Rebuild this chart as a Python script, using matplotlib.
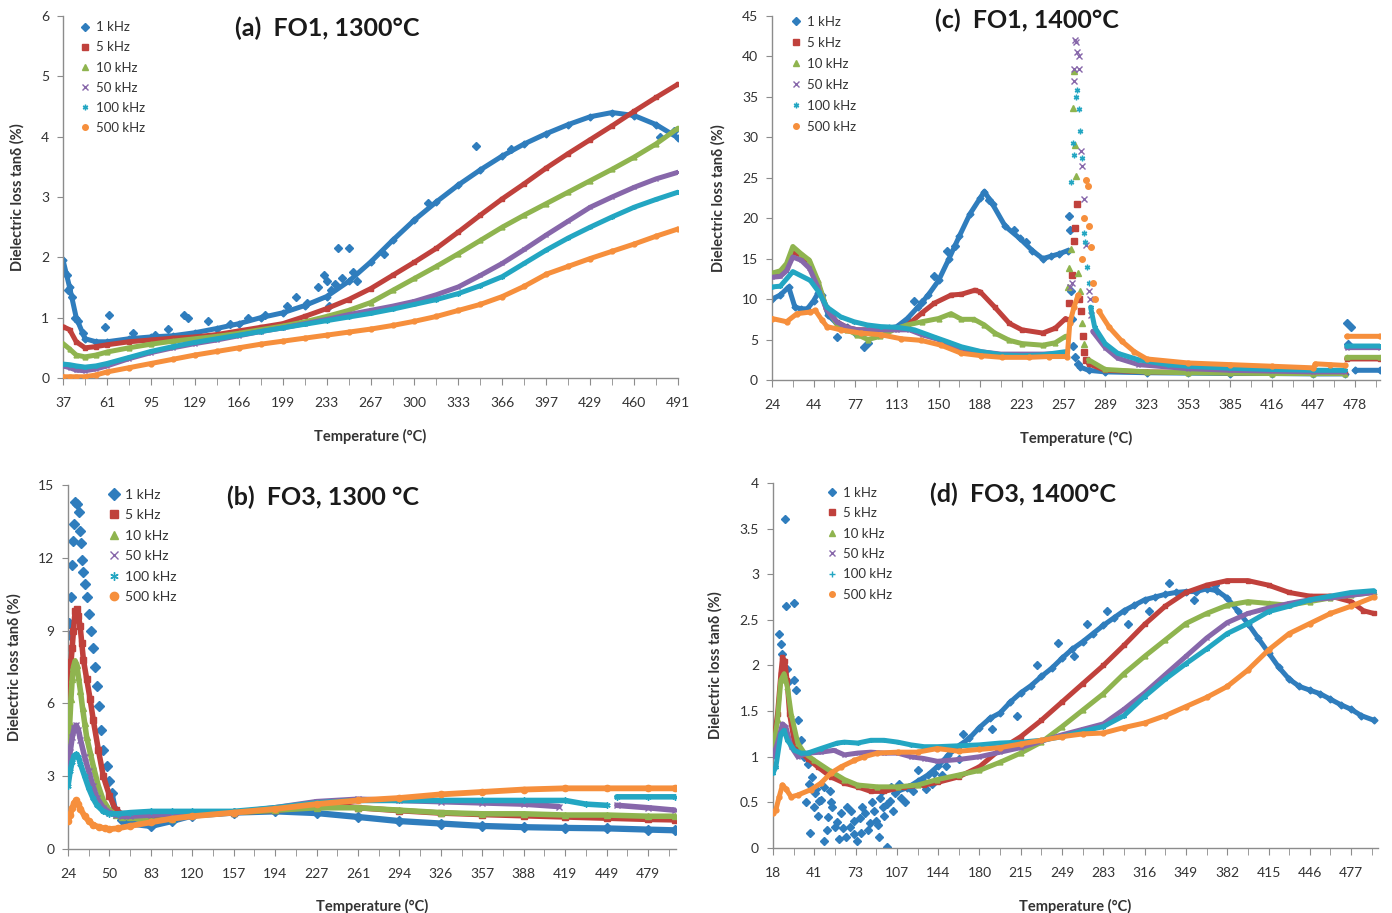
import numpy as np
import matplotlib
matplotlib.use('Agg')
import matplotlib.pyplot as plt
from matplotlib.lines import Line2D

plt.rcParams['font.family'] = ['Lato', 'DejaVu Sans']
nan = np.nan

# x positions are in "category label" units: 0 = first tick label, 1 = second ...
labels_a = ['37', '61', '95', '129', '166', '199', '233', '267', '300', '333', '366', '397', '429', '460', '491']
labels_b = ['24', '50', '83', '120', '157', '194', '227', '261', '294', '326', '357', '388', '419', '449', '479']
labels_c = ['24', '44', '77', '113', '150', '188', '223', '257', '289', '323', '353', '385', '416', '447', '478']
labels_d = ['18', '41', '73', '107', '144', '180', '215', '249', '283', '316', '349', '382', '415', '446', '477']
freqs = ['1 kHz', '5 kHz', '10 kHz', '50 kHz', '100 kHz', '500 kHz']

# ---------------- (a) FO1, 1300°C ----------------
a_x = [0, 0.15, 0.3, 0.5, 0.75, 1, 1.5, 2, 2.5, 3, 3.5, 4, 4.5, 5, 5.5, 6, 6.5, 7, 7.5, 8,
       8.5, 9, 9.5, 10, 10.5, 11, 11.5, 12, 12.5, 13, 13.5, 14]
a_1k = [1.95, 1.5, 1.0, 0.65, 0.6, 0.6, 0.65, 0.68, 0.7, 0.75, 0.82, 0.9, 1.0, 1.08, 1.2, 1.35,
        1.6, 1.92, 2.28, 2.62, 2.92, 3.2, 3.45, 3.68, 3.88, 4.05, 4.2, 4.33, 4.4, 4.35, 4.2, 3.98]
a_5k = [0.85, 0.8, 0.6, 0.5, 0.52, 0.55, 0.6, 0.63, 0.66, 0.68, 0.72, 0.78, 0.84, 0.9, 1.02, 1.15,
        1.3, 1.48, 1.7, 1.92, 2.15, 2.42, 2.7, 2.97, 3.22, 3.48, 3.72, 3.95, 4.18, 4.42, 4.65, 4.87]
a_10k = [0.57, 0.48, 0.38, 0.35, 0.38, 0.43, 0.5, 0.56, 0.61, 0.65, 0.69, 0.74, 0.8, 0.86, 0.93, 1.02,
         1.12, 1.25, 1.45, 1.65, 1.85, 2.06, 2.28, 2.5, 2.7, 2.89, 3.08, 3.27, 3.46, 3.66, 3.88, 4.14]
a_50k = [0.2, 0.17, 0.13, 0.12, 0.15, 0.2, 0.32, 0.42, 0.5, 0.57, 0.63, 0.7, 0.77, 0.83, 0.9, 0.97,
         1.05, 1.12, 1.19, 1.27, 1.38, 1.51, 1.7, 1.9, 2.13, 2.37, 2.6, 2.83, 3.0, 3.16, 3.3, 3.41]
a_100k = [0.23, 0.22, 0.2, 0.18, 0.2, 0.24, 0.34, 0.44, 0.52, 0.59, 0.65, 0.71, 0.77, 0.83, 0.89, 0.95,
          1.01, 1.07, 1.14, 1.22, 1.3, 1.4, 1.53, 1.68, 1.9, 2.12, 2.32, 2.5, 2.67, 2.83, 2.96, 3.08]
a_500k = [0.02, 0.02, 0.02, 0.02, 0.05, 0.1, 0.17, 0.24, 0.31, 0.38, 0.44, 0.5, 0.56, 0.61, 0.66, 0.71,
          0.76, 0.81, 0.87, 0.94, 1.02, 1.12, 1.22, 1.35, 1.52, 1.72, 1.85, 1.98, 2.1, 2.22, 2.35, 2.47]
a_1k_px = [0.03, 0.08, 0.12, 0.2, 0.28, 0.33, 0.45, 0.95, 1.05, 2.4, 2.75, 2.85, 3.3, 4.6, 5.3, 5.8,
           5.95, 6.1, 6.2, 6.25, 6.35, 6.5, 6.6, 6.7, 9.4, 13.6, 13.9, 3.8, 4.2, 5.1, 5.55, 6.0, 6.05,
           7.3, 8.3, 10.2, 1.6, 2.1]
a_1k_py = [1.75, 1.7, 1.45, 1.35, 1.0, 0.95, 0.75, 0.85, 1.05, 0.82, 1.05, 1.0, 0.95, 1.05, 1.35, 1.5,
           1.7, 1.45, 1.55, 2.15, 1.65, 2.15, 1.75, 1.6, 3.85, 4.0, 4.1, 0.9, 1.0, 1.2, 1.25, 1.6, 1.2,
           2.05, 2.9, 3.8, 0.75, 0.72]

# ---------------- (c) FO1, 1400°C ----------------
c_1k_x = [0, 0.2, 0.4, 0.55, 0.7, 0.85, 1.0, 1.1, 1.2, 1.35, 1.55, 1.8, 2.0, 2.2, 2.5, 2.8, 3.0, 3.25,
          3.5, 3.75, 4.0, 4.25, 4.5, 4.75, 5.0, 5.1, 5.3, 5.6, 5.95, 6.25, 6.5, 6.7, 6.9, 7.1, nan,
          7.4, 7.6, 8, 9, 10, 11, 12, 13, 13.75, nan, 14.0, 14.6]
c_1k_y = [10, 10.5, 11.5, 9.0, 8.8, 8.8, 9.8, 10.7, 10.5, 8.0, 7.0, 6.5, 5.8, 5.8, 6.3, 6.4, 6.6, 7.6,
          9.0, 10.5, 12.3, 15.0, 17.8, 20.5, 22.5, 23.3, 21.7, 19.0, 17.5, 16.0, 15.0, 15.3, 15.6, 16.0, nan,
          1.6, 1.2, 1.0, 0.9, 0.85, 0.8, 0.8, 0.75, 0.75, nan, 1.2, 1.2]
c_1k_px = [1.56, 2.22, 2.3, 7.12, 7.15, 7.18, 7.2, 7.22, 7.28, 7.35, 13.8, 13.9, 13.82, 3.4, 3.6, 3.9,
           4.2, 4.4, 5.2, 5.8, 6.1]
c_1k_py = [5.3, 4.1, 4.6, 20.3, 18.5, 11, 7.5, 4.2, 2.8, 2.0, 7.0, 6.5, 4.4, 9.8, 9.6, 12.8,
           15.9, 16.6, 22.3, 18.5, 17.0]
c_5k_x = [0, 0.2, 0.35, 0.5, 0.7, 0.9, 1.1, 1.3, 1.55, 1.8, 2.05, 2.5, 3.0, 3.26, 3.6, 3.9, 4.3, 4.55,
          4.87, 5.0, 5.35, 5.7, 6.0, 6.5, 6.8, 7.05, nan, 7.6, 8, 9, 10, 11, 12, 13, 13.75, nan, 13.8, 14.6]
c_5k_y = [13.0, 13.3, 14.0, 15.8, 15.4, 14.3, 12.0, 9.0, 7.2, 6.5, 6.2, 6.2, 6.3, 6.8, 8.3, 9.5, 10.5, 10.6,
          11.1, 10.9, 9.0, 7.0, 6.2, 5.8, 6.4, 7.6, nan, 2.0, 1.2, 1.0, 0.95, 0.9, 0.9, 0.85, 0.85, nan, 2.6, 2.6]
c_5k_px = [7.12, 7.2, 7.25, 7.28, 7.32, 7.38, 7.42, 7.46, 7.5, 7.55]
c_5k_py = [9.5, 13, 17.2, 18.8, 21.8, 10.0, 8.5, 5.5, 3.5, 2.5]
c_10k_x = [0, 0.2, 0.35, 0.5, 0.7, 0.9, 1.1, 1.3, 1.55, 1.8, 2.05, 2.3, 2.6, 3.0, 3.25, 3.6, 4.0, 4.3,
           4.55, 4.85, 5.1, 5.35, 5.7, 6.0, 6.5, 6.8, 7.05, nan, 7.6, 8, 9, 10, 11, 12, 13, 13.75, nan, 13.8, 14.6]
c_10k_y = [13.2, 13.5, 14.4, 16.5, 15.6, 14.8, 12.3, 9.0, 7.0, 6.2, 5.6, 5.0, 5.4, 6.4, 6.8, 7.2, 7.6, 8.2,
           7.5, 7.5, 6.8, 5.8, 4.9, 4.5, 4.3, 4.6, 5.4, nan, 2.5, 1.3, 1.0, 0.9, 0.85, 0.8, 0.8, 0.8, nan, 2.8, 2.8]
c_10k_px = [7.1, 7.13, 7.17, 7.22, 7.24, 7.27, 7.3, 7.35, 7.4, 7.45, 7.5]
c_10k_py = [11.5, 13.8, 16.2, 33.6, 38.2, 29, 25.2, 13.2, 11, 7, 4.5]
c_50k_x = [0, 0.2, 0.35, 0.5, 0.7, 0.9, 1.1, 1.3, 1.55, 1.8, 2.05, 2.5, 3.0, 3.3, 3.6, 4.0, 4.3, 4.6,
           5.0, 5.5, 6.0, 6.5, 7.05, nan, 7.7, 8.0, 8.3, 8.8, 10, 11, 12, 13, 13.75, nan, 13.8, 14.6]
c_50k_y = [12.7, 12.8, 13.5, 15.2, 14.8, 13.8, 11.5, 8.8, 7.2, 6.5, 6.2, 6.2, 6.2, 6.2, 5.6, 5.0, 4.3, 3.8,
           3.5, 3.2, 3.2, 3.2, 3.3, nan, 6.0, 4.0, 2.7, 1.9, 1.4, 1.2, 1.1, 1.0, 1.0, nan, 4.0, 4.0]
c_50k_px = [7.15, 7.2, 7.25, 7.26, 7.28, 7.31, 7.33, 7.36, 7.38, 7.42, 7.45, 7.5, 7.55, 7.6, 7.63, 7.66]
c_50k_py = [11.5, 12, 37, 38.5, 42, 41.8, 40.5, 40.0, 38.5, 28.3, 26.5, 22.4, 16.7, 11, 10, 8]
c_100k_x = [0, 0.2, 0.5, 0.92, 1.12, 1.32, 1.65, 1.97, 2.29, 2.61, 3.02, 3.42, 3.9, 4.23, 4.55, 5.03,
            5.52, 6.0, 6.48, 7.05, nan, 7.65, 7.75, 8.0, 8.3, 8.8, 9.5, 10, 11, 12, 13, 13.75, nan, 13.8, 14.6]
c_100k_y = [11.5, 11.6, 13.4, 12.3, 10.9, 9.0, 7.8, 7.2, 6.8, 6.6, 6.5, 6.2, 5.3, 4.7, 4.1, 3.5,
            3.1, 3.0, 3.1, 3.5, nan, 9, 6.5, 4.5, 3.3, 2.5, 1.9, 1.7, 1.45, 1.3, 1.2, 1.2, nan, 4.2, 4.2]
c_100k_px = [7.18, 7.22, 7.25, 7.3, 7.33, 7.37, 7.4, 7.45, 7.48, 7.52, 7.56, 7.6]
c_100k_py = [24.5, 29.3, 27.8, 35, 35.8, 33.5, 30.8, 27.5, 18.2, 17, 14, 12]
c_500k_x = [0, 0.35, 0.6, 0.92, 1.04, 1.2, 1.32, 1.65, 2.13, 2.61, 3.1, 3.58, 4.06, 4.55, 5.03, 5.52,
            6.16, 6.65, 7.09, 7.15, 7.25, 7.35, nan, 7.85, 8.1, 8.4, 8.7, 9.0, 10, 11, 12, 13, 13.05,
            13.4, 13.75, nan, 13.8, 14.6]
c_500k_y = [7.6, 7.2, 8.2, 8.4, 8.6, 7.4, 6.6, 6.2, 5.8, 5.6, 5.1, 4.9, 4.3, 3.3, 3.0, 2.8,
            2.8, 2.9, 2.9, 7.0, 9.0, 10.5, nan, 8.5, 6.5, 4.8, 3.5, 2.6, 2.1, 1.9, 1.7, 1.5, 2.0,
            1.9, 1.8, nan, 5.4, 5.4]
c_500k_px = [7.45, 7.5, 7.55, 7.58, 7.62, 7.66, 7.7, 7.75]
c_500k_py = [15, 20, 24.7, 24.0, 19, 16.5, 12, 10]

# ---------------- (b) FO3, 1300 °C ----------------
b_1k_x = [1.05, 1.13, 1.3, 1.5, 2.0, 2.5, 3, 4, 5, 6, 7, 8, 9, 10, 11, 12, 13, 14, 14.65]
b_1k_y = [2.3, 1.6, 1.2, 1.05, 0.95, 1.15, 1.38, 1.5, 1.55, 1.48, 1.32, 1.15, 1.05, 0.95, 0.9, 0.87,
          0.85, 0.8, 0.77]
b_1k_px = [0, 0.03, 0.06, 0.1, 0.12, 0.14, 0.17, 0.22, 0.26, 0.29, 0.31, 0.33, 0.37, 0.4, 0.45, 0.5,
           0.55, 0.61, 0.65, 0.7, 0.75, 0.8, 0.85, 0.93, 1.0]
b_1k_py = [8.8, 9.3, 10.4, 11.7, 12.7, 13.4, 14.3, 14.2, 13.9, 13.1, 12.6, 11.9, 11.4, 10.9, 10.4, 9.7,
           9.0, 8.3, 7.5, 6.7, 5.9, 4.9, 4.1, 3.4, 2.8]
b_5k_x = [0, 0.04, 0.07, 0.1, 0.13, 0.17, 0.21, 0.25, 0.29, 0.33, 0.37, 0.45, 0.53, 0.61, 0.73, 0.85,
          1.0, 1.15, 1.3, 1.5, 2, 2.5, 3, 4, 5, 6, 6.5, 7, 8, 9, 10, 11, 12, 13, 14, 14.65]
b_5k_y = [6.3, 7.0, 7.7, 8.3, 9.0, 9.8, 9.9, 9.6, 9.2, 8.5, 7.8, 7.0, 6.2, 5.3, 4.1, 3.0,
          2.2, 1.6, 1.45, 1.4, 1.25, 1.3, 1.4, 1.5, 1.6, 1.75, 1.8, 1.7, 1.58, 1.48, 1.42, 1.37, 1.32,
          1.27, 1.22, 1.2]
b_10k_x = [0, 0.04, 0.07, 0.1, 0.13, 0.17, 0.21, 0.25, 0.3, 0.35, 0.4, 0.45, 0.53, 0.61, 0.73, 0.85,
           1.0, 1.15, 1.3, 1.5, 2, 2.5, 3, 4, 5, 6, 7, 8, 9, 10, 11, 12, 13, 14, 14.65]
b_10k_y = [4.5, 5.2, 6.2, 7.0, 7.5, 7.75, 7.6, 7.1, 6.5, 5.8, 5.2, 4.6, 4.0, 3.4, 2.6, 2.0,
           1.6, 1.4, 1.3, 1.3, 1.15, 1.25, 1.4, 1.5, 1.6, 1.7, 1.7, 1.6, 1.5, 1.45, 1.45, 1.4, 1.4, 1.35, 1.35]
b_50k_x = [0, 0.05, 0.1, 0.15, 0.2, 0.25, 0.3, 0.4, 0.5, 0.6, 0.7, 0.85, 1.0, 1.15, 1.3, 1.5,
           2, 2.5, 3, 4, 5, 6, 7, 8, 9, 10, 11, 11.85, nan, 13.25, 14, 14.65]
b_50k_y = [3.3, 4.0, 4.6, 5.0, 5.1, 4.9, 4.5, 3.8, 3.2, 2.6, 2.1, 1.7, 1.5, 1.4, 1.35, 1.35,
           1.4, 1.45, 1.45, 1.5, 1.7, 1.95, 2.05, 2.0, 1.95, 1.9, 1.85, 1.75, nan, 1.8, 1.7, 1.6]
b_100k_x = [0, 0.05, 0.1, 0.15, 0.2, 0.25, 0.3, 0.4, 0.5, 0.6, 0.7, 0.85, 1.0, 1.2, 1.5, 2,
            2.5, 3, 4, 5, 6, 7, 8, 9, 10, 11, 12, 12.5, 13.0, nan, 13.25, 14, 14.65]
b_100k_y = [2.6, 3.2, 3.6, 3.85, 3.9, 3.8, 3.5, 3.0, 2.5, 2.1, 1.8, 1.55, 1.45, 1.45, 1.5, 1.55,
            1.55, 1.55, 1.55, 1.7, 1.9, 2.0, 2.0, 2.0, 2.0, 2.0, 2.0, 1.85, 1.8, nan, 2.15, 2.15, 2.15]
b_500k_x = [0, 0.05, 0.1, 0.15, 0.2, 0.25, 0.3, 0.4, 0.5, 0.6, 0.75, 0.9, 1.0, 1.2, 1.5,
            2, 2.5, 3, 4, 5, 6, 7, 8, 9, 10, 11, 12, 13, 14, 14.65]
b_500k_y = [1.15, 1.4, 1.7, 1.9, 2.0, 1.85, 1.65, 1.35, 1.15, 1.0, 0.9, 0.85, 0.82, 0.85, 0.95,
            1.1, 1.25, 1.35, 1.5, 1.65, 1.85, 2.0, 2.1, 2.25, 2.35, 2.45, 2.5, 2.5, 2.5, 2.5]

# ---------------- (d) FO3, 1400°C ----------------
d_1k_x = [3.0, 3.25, 3.5, 3.75, 4.0, 4.25, 4.5, 4.75, 5.0, 5.25, 5.5, 5.75, 6.0, 6.25, 6.5, 6.75,
          7.0, 7.25, 7.5, 7.75, 8.0, 8.25, 8.5, 8.75, 9.0, 9.25, 9.5, 9.75, 10.0, 10.25, 10.5, 10.75,
          11.0, 11.25, 11.5, 11.75, 12.0, 12.25, 12.5, 12.75, 13.0, 13.25, 13.5, 13.75, 14.0, 14.25, 14.55]
d_1k_y = [0.62, 0.66, 0.73, 0.8, 0.9, 1.02, 1.12, 1.2, 1.32, 1.42, 1.48, 1.6, 1.7, 1.78, 1.88, 1.97,
          2.08, 2.18, 2.26, 2.35, 2.44, 2.52, 2.6, 2.66, 2.72, 2.75, 2.78, 2.8, 2.81, 2.81, 2.84, 2.82,
          2.74, 2.6, 2.46, 2.3, 2.14, 1.98, 1.85, 1.77, 1.73, 1.69, 1.63, 1.57, 1.52, 1.45, 1.4]
d_1k_px = [0, 0.03, 0.15, 0.19, 0.23, 0.29, 0.31, 0.5, 0.34, 0.37, 0.52, 0.56, 0.6, 0.68, 0.76,
           0.8, 0.9, 1.0, 1.12, 1.23, 1.33, 1.44, 1.5, 1.65, 1.76, 1.87, 1.97, 2.03, 2.13, 2.24, 2.35,
           2.45, 2.56, 2.67, 2.77, 2.83, 0.85, 0.95, 1.05, 1.16, 1.24, 1.4, 1.55, 1.7, 1.9, 2.1, 2.3,
           2.5, 2.6, 2.7, 2.85, 2.95, 3.1, 3.3, 3.6, 3.9, 4.2, 4.6, 5.3, 5.9, 6.4, 6.9, 7.3, 7.6, 8.1,
           8.6, 9.1, 9.6, 10.2, 10.7, 0.88, 1.02, 1.1, 1.3, 1.38, 1.6, 1.8, 1.95, 2.15, 2.4, 2.55, 2.65,
           2.75, 2.9, 3.05, 3.2, 3.4, 3.5, 3.7, 3.85, 4.1, 4.35, 4.5]
d_1k_py = [1.15, 1.25, 2.35, 2.24, 2.13, 3.61, 2.65, 2.68, 1.96, 1.82, 1.84, 1.73, 1.4, 1.18, 1.0,
           0.5, 0.16, 0.45, 0.52, 0.08, 0.34, 0.45, 0.23, 0.38, 0.12, 0.23, 0.3, 0.08, 0.16, 0.38, 0.27,
           0.41, 0.12, 0.45, 0.01, 0.52, 0.92, 0.78, 0.65, 0.53, 0.67, 0.5, 0.28, 0.22, 0.4, 0.33, 0.2,
           0.3, 0.55, 0.35, 0.67, 0.6, 0.55, 0.67, 0.75, 0.82, 0.9, 1.25, 1.3, 1.45, 2.0, 2.25, 2.1, 2.45, 2.6,
           2.45, 2.6, 2.9, 2.72, 2.88, 0.7, 0.6, 0.35, 0.2, 0.62, 0.1, 0.45, 0.15, 0.45, 0.5, 0.25, 0.62,
           0.48, 0.4, 0.7, 0.5, 0.62, 0.85, 0.65, 0.7, 0.8, 1.1, 0.98]
d_5k_x = [0, 0.11, 0.19, 0.23, 0.29, 0.34, 0.4, 0.52, 0.68, 0.84, 1.08, 1.4, 1.73, 2.05, 2.37, 2.69,
          3.18, 3.66, 4.0, 4.5, 5.0, 5.5, 6.0, 6.5, 7.0, 7.5, 8.0, 8.5, 9.0, 9.5, 10.0, 10.5, 11.0,
          11.5, 12.0, 12.5, 13.0, 13.5, 14.0, 14.3, 14.55]
d_5k_y = [1.1, 1.47, 1.91, 2.09, 2.05, 1.84, 1.47, 1.15, 1.04, 0.98, 0.89, 0.78, 0.71, 0.67, 0.62, 0.62,
          0.67, 0.69, 0.72, 0.78, 0.89, 1.08, 1.22, 1.4, 1.6, 1.8, 2.0, 2.22, 2.45, 2.65, 2.8, 2.88, 2.93,
          2.93, 2.88, 2.8, 2.76, 2.76, 2.7, 2.6, 2.57]
d_10k_x = [0, 0.11, 0.19, 0.27, 0.35, 0.44, 0.6, 0.76, 1.0, 1.4, 1.73, 2.05, 2.53, 3.02, 3.5, 3.98,
           4.5, 5.0, 5.5, 6.0, 6.5, 7.0, 7.5, 8.0, 8.5, 9.0, 9.5, 10.0, 10.5, 11.0, 11.5, 12.0, 12.5,
           13.0, 13.5, 14.0, 14.55]
d_10k_y = [1.07, 1.4, 1.84, 1.91, 1.76, 1.47, 1.15, 1.04, 0.96, 0.84, 0.75, 0.69, 0.67, 0.67, 0.69, 0.75,
           0.8, 0.85, 0.94, 1.04, 1.16, 1.33, 1.51, 1.69, 1.91, 2.1, 2.28, 2.46, 2.57, 2.66, 2.7, 2.68, 2.66,
           2.7, 2.74, 2.77, 2.8]
d_50k_x = [0, 0.11, 0.23, 0.31, 0.44, 0.6, 0.84, 1.16, 1.48, 1.73, 2.05, 2.37, 2.69, 3.02, 3.34, 3.66,
           3.98, 4.5, 5.0, 5.5, 6.0, 6.5, 7.0, 7.5, 8.0, 8.5, 9.0, 9.5, 10.0, 10.5, 11.0, 11.5, 12.0,
           12.5, 13.0, 13.5, 14.0, 14.55]
d_50k_y = [1.0, 1.15, 1.36, 1.33, 1.11, 1.0, 1.04, 1.05, 1.07, 1.02, 1.04, 1.05, 1.04, 1.04, 1.0, 0.98,
           0.95, 0.97, 1.0, 1.05, 1.1, 1.17, 1.24, 1.3, 1.36, 1.52, 1.7, 1.9, 2.1, 2.3, 2.47, 2.57, 2.63,
           2.68, 2.72, 2.74, 2.77, 2.8]
d_100k_x = [0, 0.07, 0.19, 0.27, 0.35, 0.52, 0.68, 0.84, 1.16, 1.56, 1.73, 2.05, 2.37, 2.69, 3.02, 3.34,
            3.66, 3.98, 4.5, 5.0, 5.5, 6.0, 6.5, 7.0, 7.5, 8.0, 8.5, 9.0, 9.5, 10.0, 10.5, 11.0, 11.5,
            12.0, 12.5, 13.0, 13.5, 14.0, 14.55]
d_100k_y = [0.82, 0.89, 1.25, 1.29, 1.18, 1.07, 1.04, 1.04, 1.09, 1.15, 1.16, 1.15, 1.18, 1.18, 1.16, 1.13,
            1.11, 1.11, 1.12, 1.13, 1.15, 1.16, 1.18, 1.22, 1.28, 1.33, 1.45, 1.66, 1.85, 2.02, 2.18, 2.35, 2.46,
            2.59, 2.65, 2.72, 2.76, 2.8, 2.82]
d_500k_x = [0, 0.07, 0.15, 0.23, 0.31, 0.44, 0.6, 0.92, 1.16, 1.4, 1.65, 1.97, 2.21, 2.53, 3.02, 3.5,
            3.98, 4.5, 5.0, 5.5, 6.0, 6.5, 7.0, 7.5, 8.0, 8.5, 9.0, 9.5, 10.0, 10.5, 11.0, 11.5, 12.0,
            12.5, 13.0, 13.5, 14.0, 14.55]
d_500k_y = [0.38, 0.42, 0.56, 0.69, 0.65, 0.56, 0.58, 0.64, 0.71, 0.82, 0.89, 0.96, 1.0, 1.04, 1.05, 1.05,
            1.09, 1.06, 1.08, 1.1, 1.14, 1.18, 1.22, 1.25, 1.26, 1.32, 1.37, 1.45, 1.55, 1.65, 1.77, 1.95, 2.17,
            2.35, 2.46, 2.57, 2.65, 2.75]

# series styles (Excel 2007 palette)
colors = ['#2f7dbd', '#c0413c', '#8fb44f', '#8767aa', '#23a6c2', '#f68f3c']
markers = ['D', 's', '^', 'x', (6, 2, 0), 'o']

fig = plt.figure(figsize=(13.92, 9.13), dpi=100)
ax_a = fig.add_axes([0.0453, 0.586, 0.4418, 0.3965])
ax_c = fig.add_axes([0.5546, 0.5838, 0.4368, 0.3987])
ax_b = fig.add_axes([0.0489, 0.0701, 0.4368, 0.3987])
ax_d = fig.add_axes([0.5553, 0.0712, 0.4346, 0.3998])


def series(ax, i, x, y, lw, ms, px=None, py=None):
    c = colors[i]
    m = markers[i]
    mfc = c if m not in ('x', (6, 2, 0)) else 'none'
    ax.plot(x, y, color=c, lw=lw, marker=m, ms=ms, mfc=mfc, mec=c, mew=1.0,
            solid_joinstyle='round', solid_capstyle='round', zorder=2 + i)
    if px is not None:
        ax.plot(px, py, ls='none', color=c, marker=m, ms=ms + 0.5, mfc=mfc, mec=c, mew=1.0, zorder=2 + i)


def style(ax, labels, xmax, ymax, ystep, yfmt, title, tx, ty, ylab_x, xlab_y, leg_xy, leg_fs, leg_ms,
          leg_sp, plus=False):
    ax.set_xlim(0, xmax)
    ax.set_ylim(0, ymax)
    ax.set_xticks(range(len(labels)))
    ax.set_xticklabels(labels)
    ax.set_xticks(np.arange(0.5, xmax, 1.0), minor=True)
    yt = np.arange(0, ymax + ystep / 2, ystep)
    ax.set_yticks(yt)
    ax.set_yticklabels([yfmt(v) for v in yt])
    for s in ['top', 'right']:
        ax.spines[s].set_visible(False)
    for s in ['left', 'bottom']:
        ax.spines[s].set_color('#8c8c8c')
        ax.spines[s].set_linewidth(1.0)
    ax.tick_params(axis='x', which='both', direction='out', length=5, color='#8c8c8c',
                   labelsize=10, labelcolor='#333333', pad=9)
    ax.tick_params(axis='y', direction='out', length=4, color='#8c8c8c', labelsize=10,
                   labelcolor='#333333', pad=6)
    ax.set_xlabel('Temperature (°C)', fontsize=10.5, fontweight='bold', color='#333333')
    ax.xaxis.set_label_coords(0.5, xlab_y)
    ax.set_ylabel('Dielectric loss tanδ (%)', fontsize=10.5, fontweight='bold', color='#333333')
    ax.yaxis.set_label_coords(ylab_x, 0.5)
    ax.text(tx, ty, title, transform=ax.transAxes, fontsize=18, fontweight='bold', color='#1a1a1a',
            ha='center', va='center')
    handles = []
    for i in range(6):
        m = markers[i]
        if plus and i == 4:
            m = '+'
        mfc = colors[i] if m not in ('x', '+', (6, 2, 0)) else 'none'
        handles.append(Line2D([], [], ls='none', marker=m, ms=leg_ms, color=colors[i], mfc=mfc,
                              mec=colors[i], mew=1.0))
    ax.legend(handles, freqs, loc='upper left', bbox_to_anchor=leg_xy, frameon=False,
              fontsize=leg_fs, handlelength=0.6, handletextpad=0.5, labelspacing=leg_sp,
              borderpad=0, borderaxespad=0, labelcolor='#333333')


# panel a
series(ax_a, 0, a_x, a_1k, 3.6, 3.5, a_1k_px, a_1k_py)
series(ax_a, 1, a_x, a_5k, 3.6, 3.5)
series(ax_a, 2, a_x, a_10k, 3.6, 3.5)
series(ax_a, 3, a_x, a_50k, 3.6, 3.5)
series(ax_a, 4, a_x, a_100k, 3.6, 3.5)
series(ax_a, 5, a_x, a_500k, 3.6, 3.5)
style(ax_a, labels_a, 14, 6, 1, lambda v: '%d' % v, '(a)  FO1, 1300°C', 0.43, 0.967,
      -0.062, -0.14, (0.03, 0.985), 9.5, 4, 0.61)

# panel c
series(ax_c, 0, c_1k_x, c_1k_y, 3.6, 3.5, c_1k_px, c_1k_py)
series(ax_c, 1, c_5k_x, c_5k_y, 3.6, 3.5, c_5k_px, c_5k_py)
series(ax_c, 2, c_10k_x, c_10k_y, 3.6, 3.5, c_10k_px, c_10k_py)
series(ax_c, 3, c_50k_x, c_50k_y, 3.6, 3.5, c_50k_px, c_50k_py)
series(ax_c, 4, c_100k_x, c_100k_y, 3.6, 3.5, c_100k_px, c_100k_py)
series(ax_c, 5, c_500k_x, c_500k_y, 3.6, 3.5, c_500k_px, c_500k_py)
style(ax_c, labels_c, 14.6, 45, 5, lambda v: '%d' % v, '(c)  FO1, 1400°C', 0.42, 0.989,
      -0.077, -0.14, (0.033, 1.0), 9.5, 4, 0.68)

# panel b
series(ax_b, 0, b_1k_x, b_1k_y, 4.5, 5, b_1k_px, b_1k_py)
series(ax_b, 1, b_5k_x, b_5k_y, 4.0, 4.5)
series(ax_b, 2, b_10k_x, b_10k_y, 4.0, 4.5)
series(ax_b, 3, b_50k_x, b_50k_y, 4.0, 4.5)
series(ax_b, 4, b_100k_x, b_100k_y, 4.0, 4.5)
series(ax_b, 5, b_500k_x, b_500k_y, 4.2, 4.5)
style(ax_b, labels_b, 14.68, 15, 3, lambda v: '%d' % v, '(b)  FO3, 1300 °C', 0.42, 0.967,
      -0.076, -0.137, (0.068, 0.99), 10, 6, 0.61)

# panel d
series(ax_d, 0, d_1k_x, d_1k_y, 3.6, 3.5, d_1k_px, d_1k_py)
series(ax_d, 1, d_5k_x, d_5k_y, 3.6, 3.5)
series(ax_d, 2, d_10k_x, d_10k_y, 3.6, 3.5)
series(ax_d, 3, d_50k_x, d_50k_y, 3.6, 3.5)
series(ax_d, 4, d_100k_x, d_100k_y, 3.6, 3.5)
series(ax_d, 5, d_500k_x, d_500k_y, 3.6, 3.5)
style(ax_d, labels_d, 14.65, 4, 0.5, lambda v: ('%g' % v), '(d)  FO3, 1400°C', 0.413, 0.97,
      -0.083, -0.14, (0.091, 0.99), 9.5, 4, 0.64, plus=True)

fig.savefig('out.png', dpi=100)
